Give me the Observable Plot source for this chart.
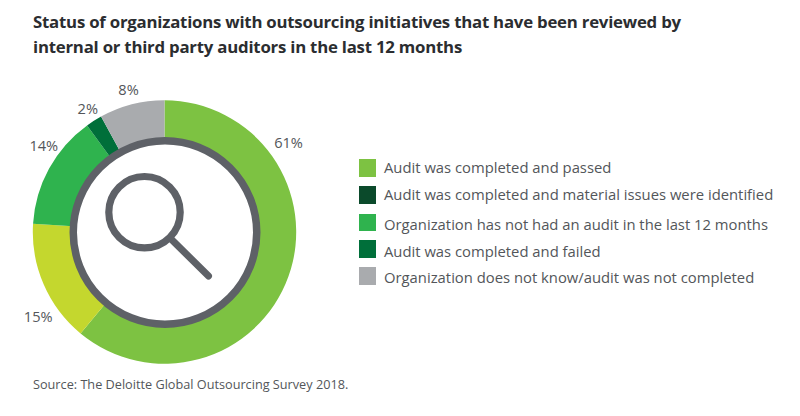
<!DOCTYPE html>
<html>
<head>
<meta charset="utf-8">
<script src="https://cdn.jsdelivr.net/npm/d3@7"></script>
<script src="https://cdn.jsdelivr.net/npm/@observablehq/plot@0.6"></script>
<style>
  html, body { margin: 0; padding: 0; background: #fff; }
  body { width: 800px; height: 416px; overflow: hidden; position: relative; font-family: "Open Sans", sans-serif; }
  #title { position: absolute; left: 33px; top: 9px; font-size: 16.8px; letter-spacing: -0.22px; line-height: 25px; font-weight: 700; color: #2b2d30; white-space: nowrap; }
  #chart { position: absolute; left: 0; top: 70px; }
  #chart svg { display: block; }
  #legend .sw { position: absolute; left: 358.5px; width: 17.5px; height: 17.5px; }
  #legend .tx { position: absolute; left: 384px; font-size: 14.82px; line-height: 20px; color: #53565a; white-space: nowrap; }
  #source { position: absolute; left: 33px; top: 374.5px; font-size: 12.7px; line-height: 18px; color: #53565a; white-space: nowrap; }
</style>
</head>
<body>
<div id="title"></div>
<div id="chart"></div>
<div id="legend"></div>
<div id="source"></div>
<script>
const titleLines = [
  "Status of organizations with outsourcing initiatives that have been reviewed by",
  "internal or third party auditors in the last 12 months"
];
const source = "Source: The Deloitte Global Outsourcing Survey 2018.";

// Ring slices, clockwise from the top
const sliceNames = ["passed", "yellow", "no audit", "failed", "unknown"];
const sliceValues = [61, 15, 14, 2, 8];
const sliceColors = ["#7dc242", "#c4d72e", "#2fb34e", "#006f3a", "#a9abae"];

// Legend
const legendLabels = [
  "Audit was completed and passed",
  "Audit was completed and material issues were identified",
  "Organization has not had an audit in the last 12 months",
  "Audit was completed and failed",
  "Organization does not know/audit was not completed"
];
const legendColors = ["#7dc242", "#0b4a2b", "#2fb34e", "#006f3a", "#a9abae"];

const W = 800, H = 304;
const cx = 164.5, cy = 162, outerR = 131.7, innerR = 92;
const inkColor = "#5e6167";

const slices = sliceNames.map((name, i) => ({name, value: sliceValues[i], label: sliceValues[i] + "%"}));

// Hand placement of the percentage labels, relative to the donut centre
const labelOffsets = {
  passed: [123.5, -89.5],
  yellow: [-126.8, 85],
  "no audit": [-121.2, -86.3],
  failed: [-77.2, -122.7],
  unknown: [-36.5, -142]
};

const ringRender = (index, scales, values) => {
  const arc = d3.arc().innerRadius(innerR).outerRadius(outerR);
  const g = d3.create("svg:g").attr("transform", `translate(${scales.x(cx)},${scales.y(cy)})`);
  for (const i of index) {
    g.append("path")
      .attr("fill", values.fill[i])
      .attr("d", arc({
        startAngle: values.x1[i] / 100 * 2 * Math.PI,
        endAngle: values.x2[i] / 100 * 2 * Math.PI
      }));
  }
  return g.node();
};

const plot = Plot.plot({
  width: W,
  height: H,
  margin: 0,
  x: {domain: [0, W], range: [0, W], axis: null},
  y: {domain: [0, H], range: [0, H], axis: null},
  color: {domain: sliceNames, range: sliceColors},
  marks: [
    Plot.barX(slices, Plot.stackX({x: "value", fill: "name", order: null, render: ringRender})),
    Plot.dot([0], {x: () => cx, y: () => cy, r: 91.75, fill: "#fff", stroke: inkColor, strokeWidth: 7.5}),
    Plot.dot([0], {x: () => 144, y: () => 141.7, r: 35.7, fill: "none", stroke: inkColor, strokeWidth: 7.2}),
    Plot.line([[170, 168], [208, 205.5]], {x: d => d[0], y: d => d[1], stroke: inkColor, strokeWidth: 7, strokeLinecap: "round"}),
    Plot.text(slices, {
      x: d => cx + labelOffsets[d.name][0],
      y: d => cy + labelOffsets[d.name][1],
      text: "label",
      fontSize: 14.6,
      fill: "#53565a",
      textAnchor: "middle",
      fontFamily: "Open Sans"
    })
  ]
});
document.getElementById("chart").appendChild(plot);

document.getElementById("title").innerHTML = titleLines.join("<br>");
document.getElementById("source").textContent = source;

const swatchTops = [159, 186, 213.5, 240, 267];
const textTops = [156.7, 183.7, 213.7, 240.7, 266.7];
const legend = d3.select("#legend");
legendLabels.forEach((t, i) => {
  legend.append("div").attr("class", "sw").style("top", swatchTops[i] + "px").style("background", legendColors[i]);
  legend.append("div").attr("class", "tx").style("top", textTops[i] + "px").text(t);
});
</script>
</body>
</html>
